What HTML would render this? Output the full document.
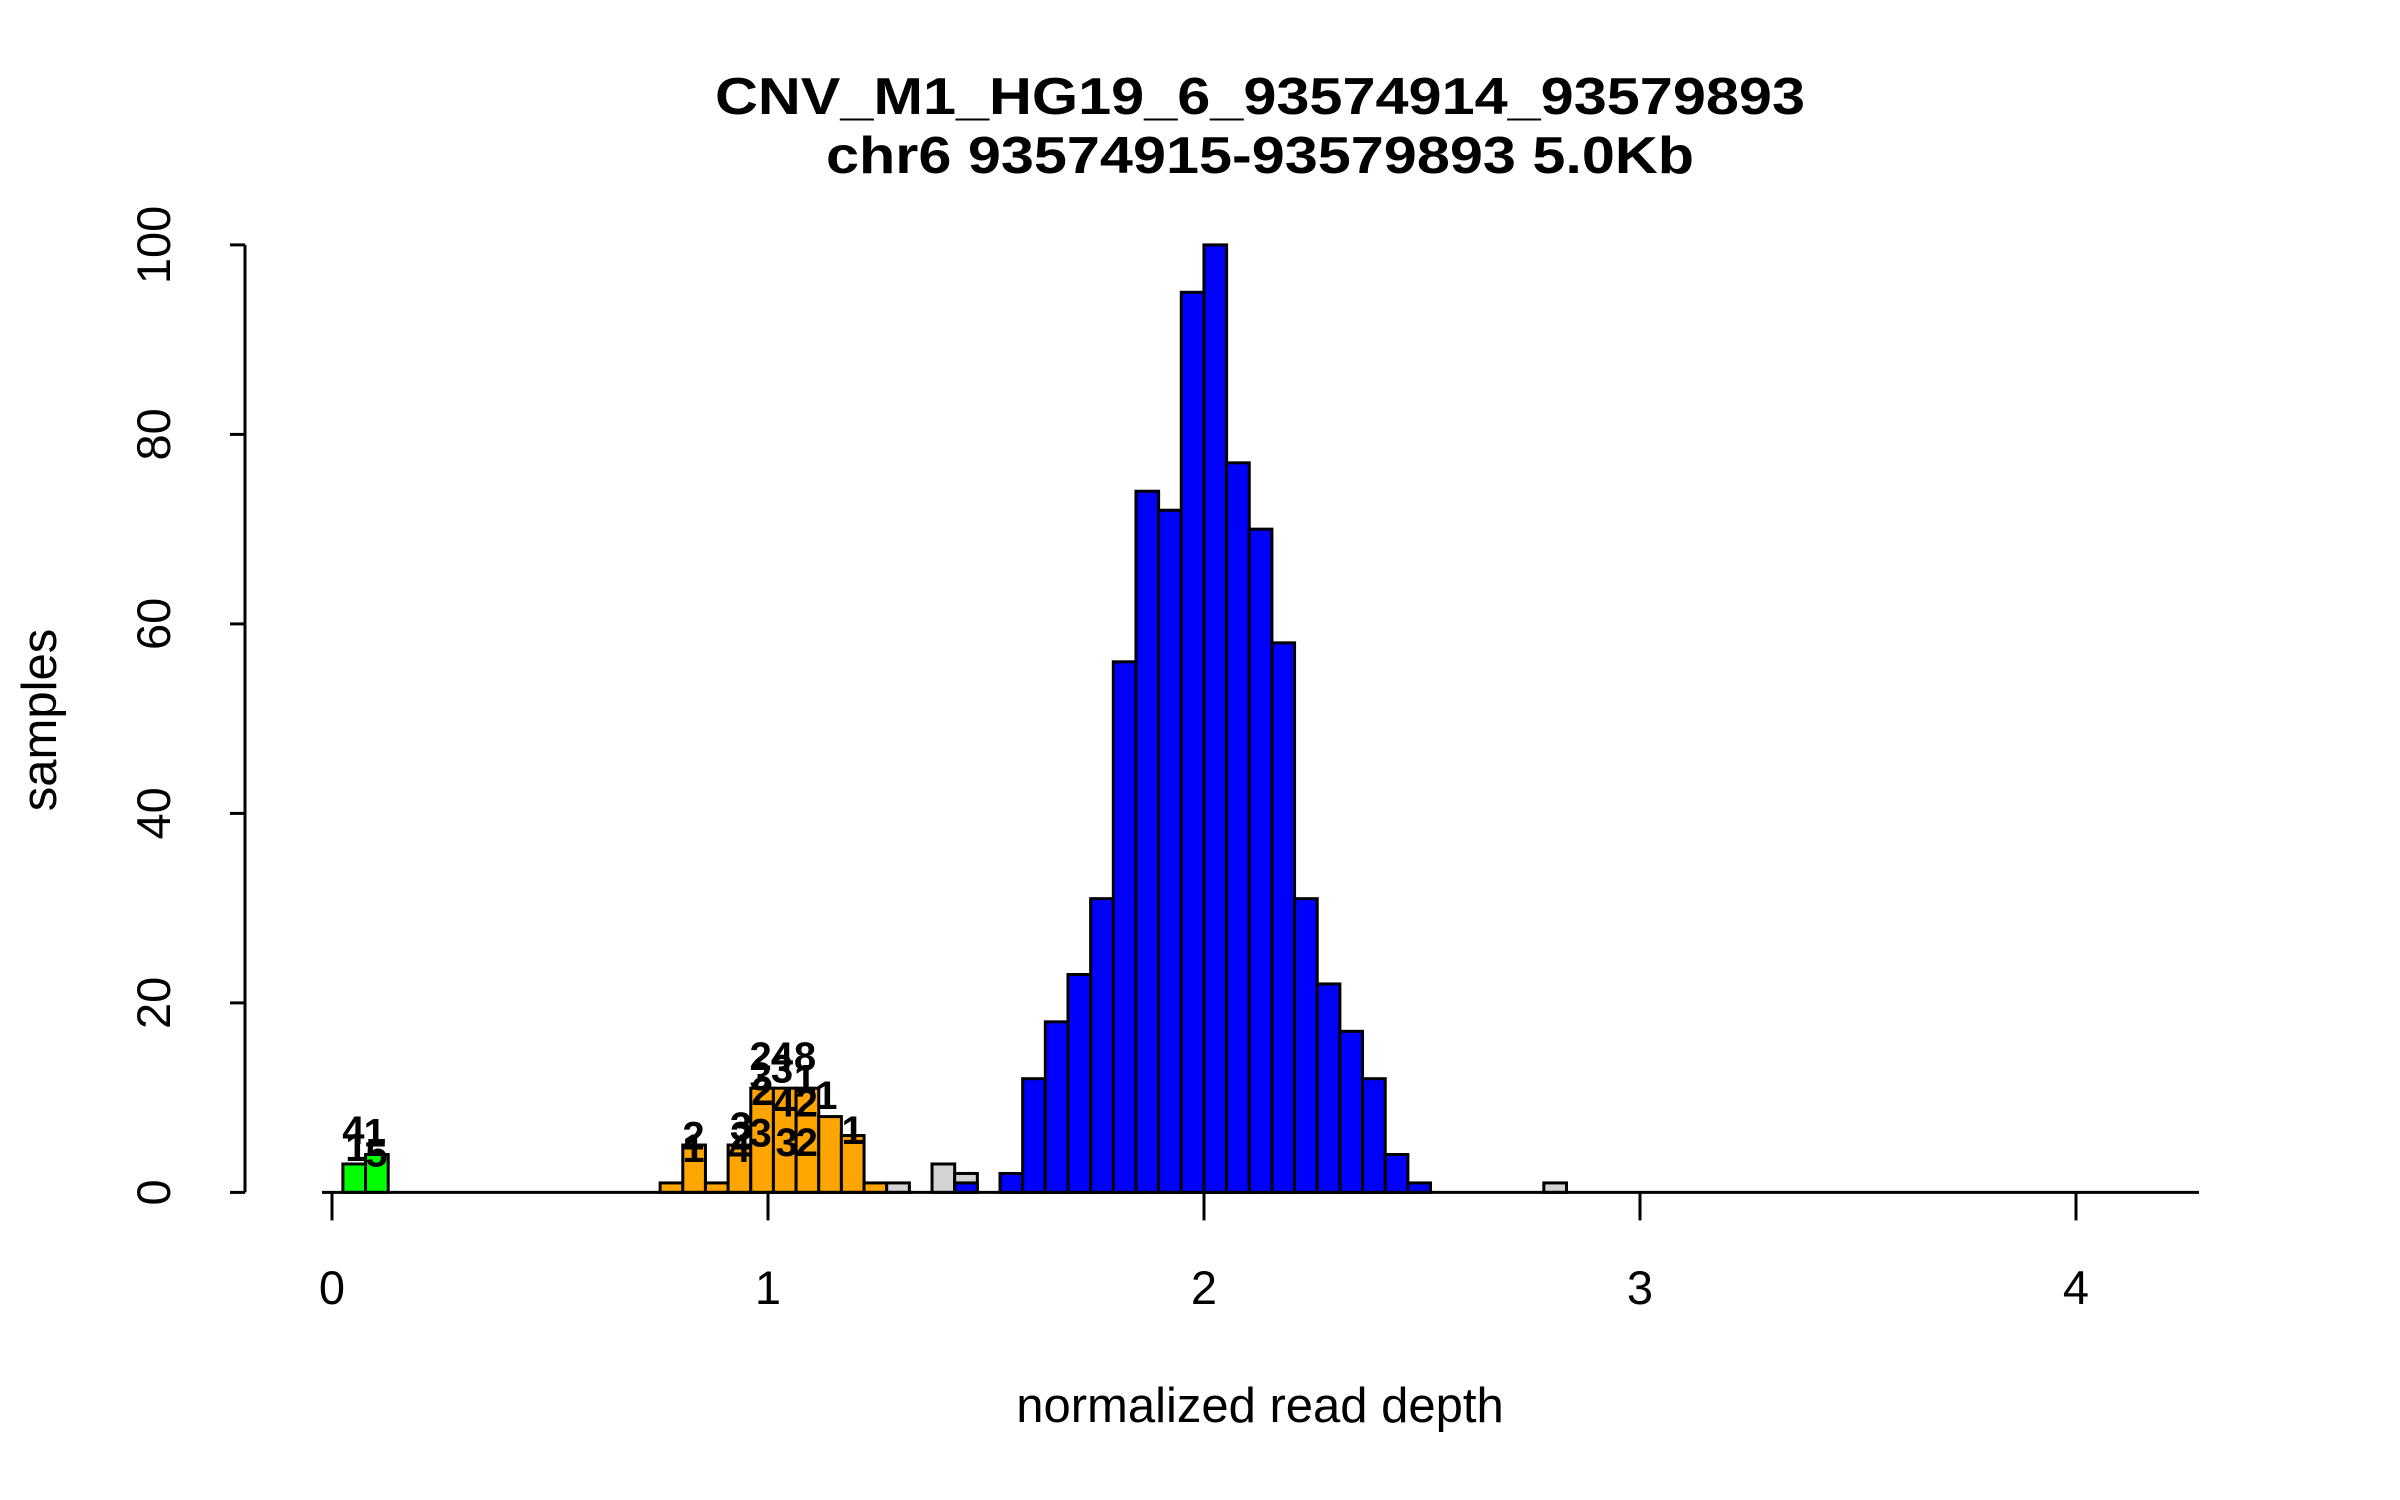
<!DOCTYPE html>
<html><head><meta charset="utf-8">
<style>html,body{margin:0;padding:0;background:#fff;}svg{display:block;font-family:"Liberation Sans",sans-serif;}</style>
</head><body>
<svg id="chart" width="2400" height="1500" viewBox="0 0 2400 1500" xmlns="http://www.w3.org/2000/svg">
<text x="1260" y="114" text-anchor="middle" font-weight="bold" font-size="52" textLength="1090" lengthAdjust="spacingAndGlyphs">CNV_M1_HG19_6_93574914_93579893</text>
<text x="1260" y="173" text-anchor="middle" font-weight="bold" font-size="52" textLength="868" lengthAdjust="spacingAndGlyphs">chr6 93574915-93579893 5.0Kb</text>
<text x="1260" y="1422" text-anchor="middle" font-size="49">normalized read depth</text>
<text transform="translate(56,720) rotate(-90)" text-anchor="middle" font-size="49">samples</text>
<g id="bars"></g><g id="axes"></g><g id="labels"></g>
</svg>
<script>
// bin layout (data units)
const binStart = 0.025;
const binWidth = 0.05197;
// bin indices and counts per series
const greenBins = [0, 1];
const greenCounts = [3, 4];
const orangeBins = [14, 15, 16, 17, 18, 19, 20, 21, 22, 23];
const orangeCounts = [1, 5, 1, 5, 11, 11, 11, 8, 6, 1];
const grayBins = [24, 26, 27, 53];
const grayCounts = [1, 3, 2, 1];
const blueBins = [27, 29, 30, 31, 32, 33, 34, 35, 36, 37, 38, 39, 40, 41, 42, 43, 44, 45, 46, 47];
const blueCounts = [1, 2, 12, 18, 23, 31, 56, 74, 72, 95, 100, 77, 70, 58, 31, 22, 17, 12, 4, 1];
const xTicks = [0, 1, 2, 3, 4];
const yTicks = [0, 20, 40, 60, 80, 100];
// sample labels: text, x (depth), y (count)
const labelText = ["4","1","1","5","2","1","3","2","4","2","4","8","3","3","1","2","4","2","1","3","3","2","1"];
const labelX = [0.049,0.098,0.056,0.102,0.829,0.829,0.938,0.938,0.934,0.983,1.032,1.085,0.983,1.032,1.085,0.987,1.036,1.089,1.134,0.983,1.043,1.089,1.194];
const labelY = [6.6,6.3,4.8,4.2,6.0,4.7,7.0,6.0,4.7,14.4,14.4,14.4,12.3,13.1,12.0,10.7,9.5,9.5,10.3,6.3,5.3,5.3,6.6];

const X0 = 332, XU = 436, Y0 = 1192.4, YU = 9.475;
const sx = v => X0 + v * XU;
const sy = v => Y0 - v * YU;
const NS = "http://www.w3.org/2000/svg";
const bars = document.getElementById('bars');
const axes = document.getElementById('axes');
const labels = document.getElementById('labels');

function drawSeries(bins, counts, color, name) {
  bins.forEach((b, i) => {
    const l = binStart + b * binWidth;
    const r = document.createElementNS(NS, 'rect');
    
    
    r.setAttribute('x', sx(l));
    r.setAttribute('width', binWidth * XU);
    r.setAttribute('y', sy(counts[i]));
    r.setAttribute('height', counts[i] * YU);
    r.setAttribute('fill', color);
    r.setAttribute('stroke', '#000');
    r.setAttribute('stroke-width', '3');
    bars.appendChild(r);
  });
}
drawSeries(greenBins, greenCounts, '#00ff00', 'green');
drawSeries(orangeBins, orangeCounts, '#ffa500', 'orange');
drawSeries(grayBins, grayCounts, '#d3d3d3', 'gray');
drawSeries(blueBins, blueCounts, '#0000ff', 'blue');

function line(x1, y1, x2, y2, name) {
  const l = document.createElementNS(NS, 'line');
  
  
  l.setAttribute('x1', x1); l.setAttribute('y1', y1);
  l.setAttribute('x2', x2); l.setAttribute('y2', y2);
  l.setAttribute('stroke', '#000'); l.setAttribute('stroke-width', '3');
  axes.appendChild(l);
}
line(322, Y0, 2199, Y0, 'x-axis-line');
line(245, sy(0), 245, sy(100), 'y-axis-line');
xTicks.forEach(t => {
  line(sx(t), Y0, sx(t), Y0 + 28, 'x-tick');
  const tx = document.createElementNS(NS, 'text');
  
  
  tx.setAttribute('x', sx(t)); tx.setAttribute('y', 1304);
  tx.setAttribute('text-anchor', 'middle'); tx.setAttribute('font-size', '47');
  tx.textContent = t;
  axes.appendChild(tx);
});
yTicks.forEach(t => {
  line(230, sy(t), 245, sy(t), 'y-tick');
  const tx = document.createElementNS(NS, 'text');
  
  
  tx.setAttribute('transform', 'translate(170,' + sy(t) + ') rotate(-90)');
  tx.setAttribute('text-anchor', 'middle'); tx.setAttribute('font-size', '47');
  tx.textContent = t;
  axes.appendChild(tx);
});
labelText.forEach((s, i) => {
  const tx = document.createElementNS(NS, 'text');
  
  
  tx.setAttribute('x', sx(labelX[i])); tx.setAttribute('y', sy(labelY[i]) + 14);
  tx.setAttribute('text-anchor', 'middle'); tx.setAttribute('font-size', '40');
  tx.setAttribute('font-weight', 'bold');
  tx.textContent = s;
  labels.appendChild(tx);
});
</script>
</body></html>
